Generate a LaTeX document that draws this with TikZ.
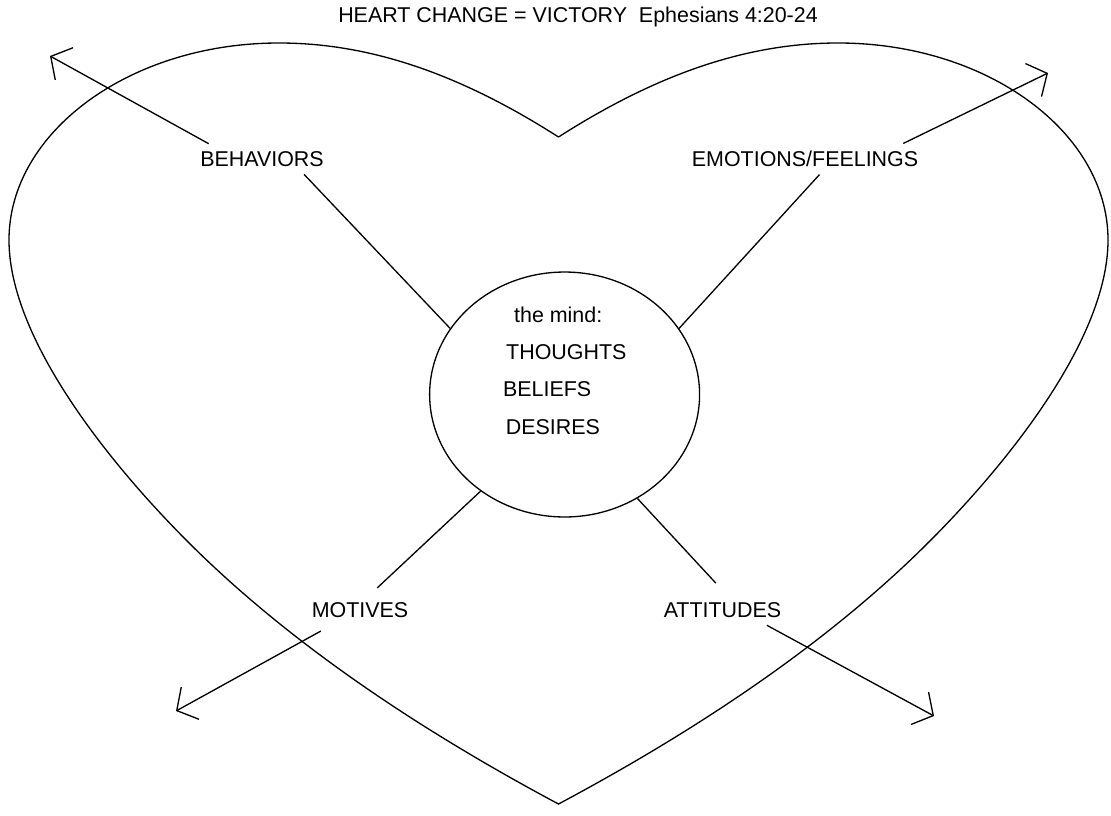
\documentclass[tikz,border=0pt]{standalone}
\usepackage{fontspec}
\setmainfont{Liberation Sans}
\usetikzlibrary{arrows.meta,shapes.geometric}

\begin{document}
\begin{tikzpicture}[x=0.02cm, y=-0.02cm, line width=0.75pt,
        lbl/.style={font=\fontsize{12.2}{14}\selectfont, inner sep=4pt},
        barb/.style={-{Straight Barb[length=8.7pt,width=20.9pt]}}]
        \useasboundingbox (0,0) rectangle (1111,815);

        % heart
        \draw (558.5,137) .. controls (460,74) and (370,43) .. (279,43)
                .. controls (130,43) and (9,132) .. (9,240)
                .. controls (9,350) and (133.7,492.2) .. (214,567)
                .. controls (308.9,655.4) and (426.5,733.5) .. (558.5,804)
                .. controls (690.5,733.5) and (808.1,655.4) .. (903,567)
                .. controls (983.3,492.2) and (1108,350) .. (1108,240)
                .. controls (1108,132) and (987,43) .. (838,43)
                .. controls (747,43) and (657,74) .. (558.5,137);

        \node[lbl] (title) at (578,16.5) {HEART CHANGE = VICTORY\ \ Ephesians 4:20-24};

        % the mind
        \node[draw, ellipse, inner sep=0pt, minimum width=5.4cm, minimum height=4.9cm] (mind) at (564.6,394.5) {};
        \node[lbl, inner sep=0pt, anchor=base west, align=left, font=\fontsize{12.2}{21.2}\selectfont] (mindtext) at (502.4,434)
                {\hspace*{6.3pt}the mind:\\\hspace*{1.8pt}THOUGHTS\\BELIEFS\\\hspace*{1.6pt}DESIRES};

        \node[lbl] (behaviors) at (262,159) {BEHAVIORS};
        \node[lbl] (emotions) at (805,159) {EMOTIONS/FEELINGS};
        \node[lbl] (motives) at (360,610) {MOTIVES};
        \node[lbl] (attitudes) at (722.5,610) {ATTITUDES};

        \coordinate (behEnd) at (50,56);
        \coordinate (emoEnd) at (1048,73);
        \coordinate (motEnd) at (176,711);
        \coordinate (attEnd) at (934,716);

        % into the mind
        \draw (behaviors.-20) -- (mind.150);
        \draw (emotions.-47) -- (mind.30);
        \draw[shorten <=5.7pt] (motives.57) -- (mind.-131);
        \draw[shorten <=9pt] (attitudes.75) -- (mind.-55);

        % out of the heart
        \draw[barb] (behaviors.164) -- (behEnd);
        \draw[barb] (emotions.9) -- (emoEnd);
        \draw[barb, shorten <=6.8pt] (motives.-152) -- (motEnd);
        \draw[barb] (attitudes.-19) -- (attEnd);
\end{tikzpicture}
\end{document}
